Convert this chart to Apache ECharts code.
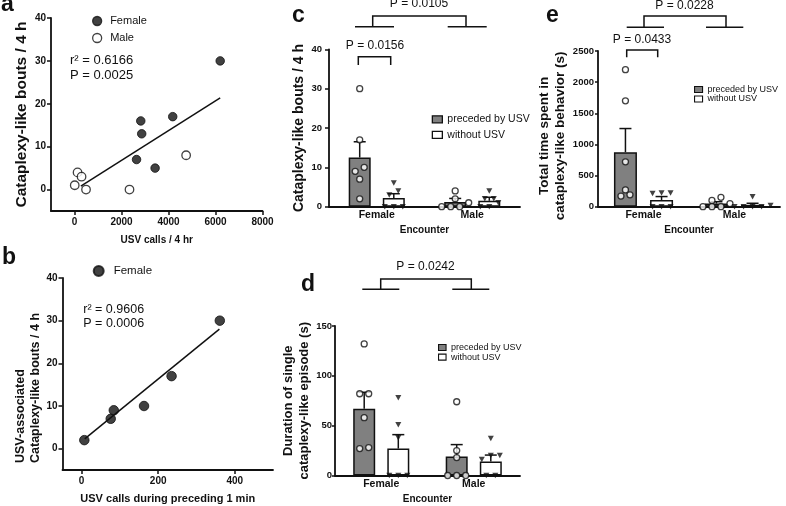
<!DOCTYPE html>
<html><head><meta charset="utf-8">
<script src="https://cdn.jsdelivr.net/npm/echarts@6/dist/echarts.min.js"></script>
<style>html,body{margin:0;padding:0;background:#fff}#c{width:786px;height:506px}</style>
</head><body><div id="c"></div>
<script>
// ---------- Panel a: cataplexy-like bouts vs USV calls (4 h)
const aFemaleUSV   = [2640, 2820, 2860, 3430, 4180, 6200];
const aFemaleBouts = [7, 16, 13, 5, 17, 30];
const aMaleUSV     = [130, 300, 10, 490, 2340, 4750];
const aMaleBouts   = [4, 3, 1, 0, 0, 8];
const aFitX = [270, 6200];
const aFitY = [0.8, 21.4];
const aXTicks = [0, 2000, 4000, 6000, 8000];
const abYTicks = [0, 10, 20, 30, 40];
// ---------- Panel b: USV-associated bouts vs USV calls in preceding 1 min
const bFemaleUSV1min = [7, 76, 84, 163, 235, 361];
const bFemaleBouts   = [2, 7, 9, 10, 17, 30];
const bFitX = [8, 360];
const bFitY = [2.3, 28];
const bXTicks = [0, 200, 400];
// ---------- Panels c, d, e (categories: encounter)
const encounters = ['Female', 'Male'];
// c: cataplexy-like bouts / 4 h
const cPreMean = [12.5, 1.2], cPreSem = [4.0, 0.9];
const cWoMean  = [2.2, 1.5],  cWoSem  = [1.1, 0.9];
const cPrePts  = [[30, 17, 10, 9, 7, 2], [4, 2, 1, 0, 0, 0]];
const cWoPts   = [[6, 4, 3, 0, 0, 0], [4, 2, 2, 1, 0, 0]];
// e: total time spent in cataplexy-like behavior (s)
const ePreMean = [875, 50],  ePreSem = [380, 30];
const eWoMean  = [108, 30],  eWoSem  = [55, 25];
const ePrePts  = [[2200, 1700, 720, 270, 170, 190], [150, 100, 50, 0, 0, 0]];
const eWoPts   = [[220, 210, 220, 0, 0, 0], [160, 20, 0, 0, 0, 0]];
// d: duration of single cataplexy-like episode (s)
const dPreMean = [67, 19],  dPreSem = [16.5, 12];
const dWoMean  = [27, 14],  dWoSem  = [14, 6.5];
const dPrePts  = [[132, 82, 82, 58, 27, 28], [74, 25, 18, 0, 0, 0]];
const dWoPts   = [[78, 51, 38, 0, 0, 0], [37, 20, 20, 16, 0, 0]];

const FF = 'Liberation Sans';
const INK = '#111';
const GRAY = '#808080';

const chart = echarts.init(document.getElementById('c'), null, {renderer: 'canvas'});

// grids: a, b, c, e, d
const grids = [
  {left: 51, top: 18, width: 211.5, height: 193},
  {left: 62.5, top: 278, width: 210.5, height: 193.5},
  {left: 329, top: 49.3, width: 191, height: 157.4},
  {left: 598, top: 51, width: 182, height: 155.7},
  {left: 335, top: 326, width: 185, height: 152.3}
];

const plain = (v) => String(v);
const axLine = {show: true, onZero: false, lineStyle: {color: INK, width: 1.8}};
const axTick = (extra) => Object.assign({show: true, length: 4, lineStyle: {color: INK, width: 1.5}}, extra || {});
const axLab = (size, margin, extra) => Object.assign({color: INK, fontFamily: FF, fontWeight: 'bold', fontSize: size, margin: margin, formatter: plain}, extra || {});
const catLab = (size, margin) => ({color: INK, fontFamily: FF, fontWeight: 'bold', fontSize: size, margin: margin});
const nameStyle = (size, lh, pad) => ({color: INK, fontFamily: FF, fontWeight: 'bold', fontSize: size, lineHeight: lh, padding: pad || 0});

const xAxis = [
  {gridIndex: 0, type: 'value', min: -1000, max: 8000, axisLine: axLine,
   axisTick: axTick({customValues: aXTicks}), axisLabel: axLab(10, 6, {customValues: aXTicks}),
   splitLine: {show: false}, name: 'USV calls / 4 hr', nameLocation: 'middle', nameGap: 23, nameTextStyle: nameStyle(10, 12)},
  {gridIndex: 1, type: 'value', min: -50, max: 500, axisLine: axLine,
   axisTick: axTick({customValues: bXTicks}), axisLabel: axLab(10, 6, {customValues: bXTicks}),
   splitLine: {show: false}, name: 'USV calls during preceding 1 min', nameLocation: 'middle', nameGap: 22, nameTextStyle: nameStyle(11, 13)},
  {gridIndex: 2, type: 'category', data: encounters, axisLine: axLine, axisTick: {show: false},
   axisLabel: catLab(10.5, 3), name: 'Encounter', nameLocation: 'middle', nameGap: 17.5, nameTextStyle: nameStyle(10, 12)},
  {gridIndex: 3, type: 'category', data: encounters, axisLine: axLine, axisTick: {show: false},
   axisLabel: catLab(10.5, 3), name: 'Encounter', nameLocation: 'middle', nameGap: 17.5, nameTextStyle: nameStyle(10, 12)},
  {gridIndex: 4, type: 'category', data: encounters, axisLine: axLine, axisTick: {show: false},
   axisLabel: catLab(10.5, 3), name: 'Encounter', nameLocation: 'middle', nameGap: 17.5, nameTextStyle: nameStyle(10, 12)}
];

const yAxis = [
  {gridIndex: 0, type: 'value', min: -5, max: 40, axisLine: axLine,
   axisTick: axTick({customValues: abYTicks}), axisLabel: axLab(10, 5, {customValues: abYTicks}),
   splitLine: {show: false}, name: 'Cataplexy-like bouts / 4 h', nameLocation: 'middle', nameGap: 17, nameTextStyle: nameStyle(15.5, 18)},
  {gridIndex: 1, type: 'value', min: -5, max: 40, axisLine: axLine,
   axisTick: axTick({customValues: abYTicks}), axisLabel: axLab(10, 5, {customValues: abYTicks}),
   splitLine: {show: false}},
  {gridIndex: 2, type: 'value', min: 0, max: 40, interval: 10, axisLine: axLine, axisTick: axTick(),
   axisLabel: axLab(9.5, 7), splitLine: {show: false},
   name: 'Cataplexy-like bouts / 4 h', nameLocation: 'middle', nameGap: 19.5, nameTextStyle: nameStyle(14, 16)},
  {gridIndex: 3, type: 'value', min: 0, max: 2500, interval: 500, axisLine: axLine, axisTick: axTick({length: 3}),
   axisLabel: axLab(9.5, 4), splitLine: {show: false},
   name: 'Total time spent in\ncataplexy-like behavior (s)', nameLocation: 'middle', nameGap: 28, nameTextStyle: nameStyle(13.5, 16.7, [0, 14, 0, 0])},
  {gridIndex: 4, type: 'value', min: 0, max: 150, interval: 50, axisLine: axLine, axisTick: axTick({length: 3}),
   axisLabel: axLab(9.5, 3), splitLine: {show: false},
   name: 'Duration of single\ncataplexy-like episode (s)', nameLocation: 'middle', nameGap: 21.5, nameTextStyle: nameStyle(13, 15.7)}
];

// horizontal spreading of points that share (nearly) the same height
function rowLayout(values, pxPerUnit, thresh, spacing) {
  const idx = values.map((v, i) => i).sort((i, j) => values[i] - values[j]);
  const off = new Array(values.length).fill(0);
  let row = [];
  const flush = () => { row.forEach((ii, k) => { off[ii] = (k - (row.length - 1) / 2) * spacing; }); row = []; };
  idx.forEach(i => {
    if (row.length && (values[i] - values[row[0]]) * pxPerUnit >= thresh) flush();
    row.push(i);
  });
  flush();
  return off;
}

function pointSeries(ax, ptsByGroup, barDx, pxPerUnit, marker) {
  const data = [];
  ptsByGroup.forEach((vals, g) => {
    const off = rowLayout(vals, pxPerUnit, 5, 9);
    vals.forEach((v, i) => data.push({value: [g, v], symbolOffset: [barDx + off[i], 0]}));
  });
  const s = {type: 'scatter', xAxisIndex: ax, yAxisIndex: ax, z: 5, clip: false, silent: true, data: data};
  if (marker === 'circle') {
    Object.assign(s, {symbol: 'circle', symbolSize: 6, itemStyle: {color: '#fff', borderColor: INK, borderWidth: 1.3}});
  } else {
    Object.assign(s, {symbol: 'triangle', symbolSize: [6, 5.5], symbolRotate: 180, itemStyle: {color: INK}});
  }
  return s;
}

function errSeries(ax, means, sems, dx) {
  return {
    type: 'custom', xAxisIndex: ax, yAxisIndex: ax, z: 4, silent: true, clip: false,
    data: means.map((m, i) => [i, m, sems[i]]),
    renderItem: (params, api) => {
      const p0 = api.coord([api.value(0), api.value(1)]);
      const p1 = api.coord([api.value(0), api.value(1) + api.value(2)]);
      const x = p0[0] + dx;
      const st = {stroke: INK, lineWidth: 1.5};
      return {type: 'group', children: [
        {type: 'line', shape: {x1: x, y1: p0[1], x2: x, y2: p1[1]}, style: st},
        {type: 'line', shape: {x1: x - 6, y1: p1[1], x2: x + 6, y2: p1[1]}, style: st}
      ]};
    }
  };
}

function barPanel(ax, preMean, preSem, woMean, woSem, prePts, woPts, bw, gapPct, pxPerUnit) {
  const dx = (bw + bw * gapPct / 100) / 2;
  const bs = {color: GRAY, borderColor: INK, borderWidth: 1.5};
  return [
    {type: 'bar', name: 'preceded by USV', xAxisIndex: ax, yAxisIndex: ax, barWidth: bw, barGap: gapPct + '%',
     itemStyle: bs, data: preMean, z: 2, silent: true},
    {type: 'bar', name: 'without USV', xAxisIndex: ax, yAxisIndex: ax, barWidth: bw, barGap: gapPct + '%',
     itemStyle: Object.assign({}, bs, {color: '#fff'}), data: woMean, z: 2, silent: true},
    errSeries(ax, preMean, preSem, -dx),
    errSeries(ax, woMean, woSem, dx),
    pointSeries(ax, prePts, -dx, pxPerUnit, 'circle'),
    pointSeries(ax, woPts, dx, pxPerUnit, 'triangle')
  ];
}

const zip = (xs, ys) => xs.map((x, i) => [x, ys[i]]);

const series = [
  {type: 'scatter', name: 'Female', xAxisIndex: 0, yAxisIndex: 0, symbol: 'circle', symbolSize: 8.5,
   itemStyle: {color: INK, borderColor: INK, borderWidth: 1}, data: zip(aFemaleUSV, aFemaleBouts), z: 4, silent: true},
  {type: 'scatter', name: 'Male', xAxisIndex: 0, yAxisIndex: 0, symbol: 'circle', symbolSize: 8.5,
   itemStyle: {color: '#fff', borderColor: INK, borderWidth: 1.3}, data: zip(aMaleUSV, aMaleBouts), z: 4, silent: true},
  {type: 'line', name: 'fit a', xAxisIndex: 0, yAxisIndex: 0, showSymbol: false, symbol: 'none',
   lineStyle: {color: INK, width: 1.5}, data: zip(aFitX, aFitY), z: 3, silent: true},
  {type: 'scatter', name: 'Female', xAxisIndex: 1, yAxisIndex: 1, symbol: 'circle', symbolSize: 9.5,
   itemStyle: {color: INK, borderColor: INK, borderWidth: 1}, data: zip(bFemaleUSV1min, bFemaleBouts), z: 4, silent: true},
  {type: 'line', name: 'fit b', xAxisIndex: 1, yAxisIndex: 1, showSymbol: false, symbol: 'none',
   lineStyle: {color: INK, width: 1.5}, data: zip(bFitX, bFitY), z: 3, silent: true}
].concat(
  barPanel(2, cPreMean, cPreSem, cWoMean, cWoSem, cPrePts, cWoPts, 22, 55, 157.4 / 40),
  barPanel(3, ePreMean, ePreSem, eWoMean, eWoSem, ePrePts, eWoPts, 23, 57, 155.7 / 2500),
  barPanel(4, dPreMean, dPreSem, dWoMean, dWoSem, dPrePts, dWoPts, 22, 55, 152.3 / 150)
);

const legTxt = (size) => ({color: INK, fontFamily: FF, fontSize: size});
const legend = [
  {data: ['Female', 'Male'], orient: 'vertical', left: 87, top: 10.5, itemWidth: 16, itemHeight: 9, itemGap: 6,
   icon: 'circle', itemStyle: {borderColor: INK, borderWidth: 1.3}, textStyle: legTxt(11), selectedMode: false},
  {data: ['Female'], orient: 'vertical', left: 87.7, top: 260, itemWidth: 20, itemHeight: 10, itemGap: 6,
   icon: 'circle', textStyle: legTxt(11.5), selectedMode: false},
  {data: ['preceded by USV', 'without USV'], orient: 'vertical', left: 426.7, top: 108.8, itemWidth: 10, itemHeight: 7,
   itemGap: 4.5, icon: 'rect', itemStyle: {borderColor: INK, borderWidth: 1.3}, textStyle: legTxt(10.5), selectedMode: false},
  {data: ['preceded by USV', 'without USV'], orient: 'vertical', left: 689, top: 80, itemWidth: 8, itemHeight: 6,
   itemGap: 0.5, icon: 'rect', itemStyle: {borderColor: INK, borderWidth: 1.1}, textStyle: legTxt(9), selectedMode: false},
  {data: ['preceded by USV', 'without USV'], orient: 'vertical', left: 433, top: 338, itemWidth: 7.5, itemHeight: 6,
   itemGap: 0.6, icon: 'rect', itemStyle: {borderColor: INK, borderWidth: 1.1}, textStyle: legTxt(9), selectedMode: false}
];

// annotations: panel letters, statistics, significance brackets
const txt = (text, x, y, size, weight, align) => ({
  type: 'text', x: x, y: y, silent: true,
  style: {text: text, fill: INK, font: (weight || 'normal') + ' ' + size + 'px "' + FF + '"',
          align: align || 'left', verticalAlign: 'middle'}
});
const pl = (pts) => ({type: 'polyline', silent: true, shape: {points: pts}, style: {stroke: INK, lineWidth: 1.5, fill: null}});

const graphic = [
  txt('a', 1, 5, 23, 'bold'),
  txt('b', 2, 258, 23, 'bold'),
  txt('c', 292, 16, 23, 'bold'),
  txt('e', 546, 16, 23, 'bold'),
  txt('d', 301, 285, 23, 'bold'),
  txt('r\u00b2 = 0.6166', 70, 60, 13),
  txt('P = 0.0025', 70, 75, 13),
  txt('r\u00b2 = 0.9606', 83.3, 310, 12.5),
  txt('P = 0.0006', 83.3, 323.3, 12.5),
  {type: 'text', x: 28.5, y: 463, rotation: Math.PI / 2, silent: true,
   style: {text: 'USV-associated\nCataplexy-like bouts / 4 h', fill: INK, font: 'bold 12.5px "' + FF + '"',
           lineHeight: 15, align: 'left', verticalAlign: 'middle'}},
  // panel c
  txt('P = 0.0105', 419, 4, 12, 'normal', 'center'),
  pl([[372.7, 26.7], [372.7, 16], [466, 16], [466, 26.7]]),
  pl([[355, 26.7], [394, 26.7]]),
  pl([[447.7, 26.7], [486.7, 26.7]]),
  txt('P = 0.0156', 375, 46, 12, 'normal', 'center'),
  pl([[358.3, 65], [358.3, 56.7], [390.7, 56.7], [390.7, 65]]),
  // panel e
  txt('P = 0.0228', 684.5, 6, 12, 'normal', 'center'),
  pl([[644, 27.3], [644, 16], [726, 16], [726, 27.3]]),
  pl([[626.7, 27.3], [664, 27.3]]),
  pl([[706, 27.3], [743.3, 27.3]]),
  txt('P = 0.0433', 642, 39.3, 12, 'normal', 'center'),
  pl([[626.7, 57.3], [626.7, 50], [657.7, 50], [657.7, 57.3]]),
  // panel d
  txt('P = 0.0242', 425.5, 266.7, 12, 'normal', 'center'),
  pl([[380.7, 289.3], [380.7, 279], [471.3, 279], [471.3, 289.3]]),
  pl([[362.3, 289.3], [399.3, 289.3]]),
  pl([[452.3, 289.3], [489.3, 289.3]])
];

chart.setOption({
  animation: false,
  backgroundColor: '#fff',
  textStyle: {fontFamily: FF},
  grid: grids,
  xAxis: xAxis,
  yAxis: yAxis,
  legend: legend,
  series: series,
  graphic: graphic
});
</script>
</body></html>
